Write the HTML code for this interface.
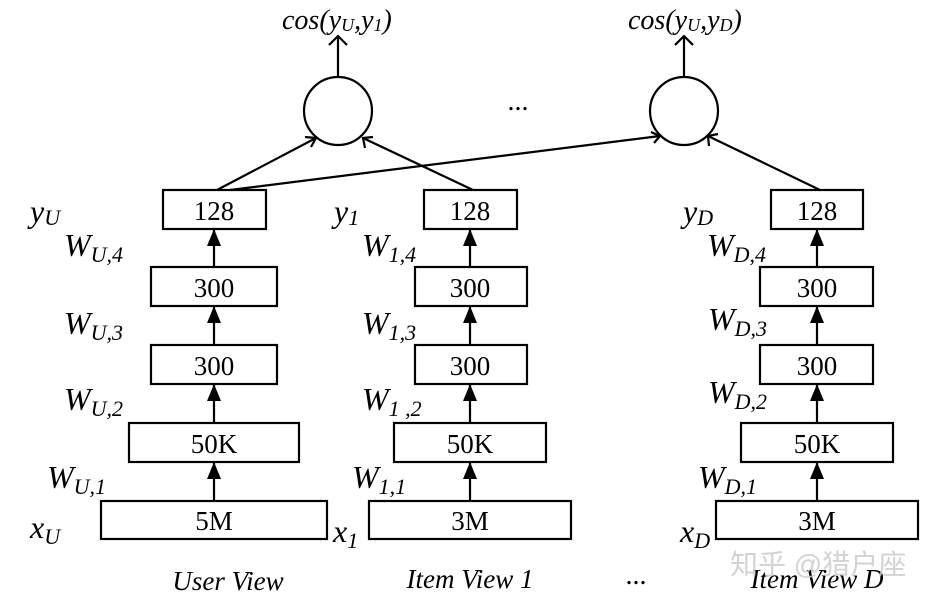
<!DOCTYPE html>
<html><head><meta charset="utf-8"><style>
html,body{margin:0;padding:0;background:#fff;}
svg{display:block;}
text{font-family:"Liberation Serif",serif;fill:#000;}
.i{font-style:italic;}
.b{font-size:27px;text-anchor:middle;}
.l{font-size:32px;font-style:italic;}
.s{font-size:22px;}
</style></head><body>
<svg width="928" height="602" viewBox="0 0 928 602" xmlns="http://www.w3.org/2000/svg">
<g fill="none" stroke="#000" stroke-width="2.2">
<rect x="163" y="190" width="103" height="39"/>
<rect x="151" y="267" width="126" height="39"/>
<rect x="151" y="345" width="126" height="39"/>
<rect x="129" y="423" width="170" height="39"/>
<rect x="101" y="501" width="226" height="38"/>
<rect x="424" y="190" width="93" height="39"/>
<rect x="415" y="267" width="112" height="39"/>
<rect x="415" y="345" width="112" height="39"/>
<rect x="394" y="423" width="152" height="39"/>
<rect x="369" y="501" width="202" height="38"/>
<rect x="771" y="190" width="92" height="39"/>
<rect x="760" y="267" width="113" height="39"/>
<rect x="760" y="345" width="113" height="39"/>
<rect x="741" y="423" width="152" height="39"/>
<rect x="716" y="501" width="202" height="38"/>
<circle cx="338" cy="111" r="34"/>
<circle cx="684" cy="111" r="34"/>
<path d="M214 501V462 M214 423V384 M214 345V306 M214 267V229"/>
<path d="M470 501V462 M470 423V384 M470 345V306 M470 267V229"/>
<path d="M817 501V462 M817 423V384 M817 345V306 M817 267V229"/>
<path d="M338 77V36 M329 45L338 36L347 45"/>
<path d="M684 77V36 M675 45L684 36L693 45"/>
<path d="M217 190L316 138 M305 137L316 138L311 147"/>
<path d="M473 190L363 138 M365 148L363 138L373 137"/>
<path d="M230 190L660 136 M651 132L660 136L654 143"/>
<path d="M820 190L708 136 M709 146L708 136L718 134"/>
</g>
<g fill="#000">
<path d="M214 229l-7 17h14z M214 306l-7 17h14z M214 384l-7 17h14z M214 462l-7 17h14z"/>
<path d="M470 229l-7 17h14z M470 306l-7 17h14z M470 384l-7 17h14z M470 462l-7 17h14z"/>
<path d="M817 229l-7 17h14z M817 306l-7 17h14z M817 384l-7 17h14z M817 462l-7 17h14z"/>
</g>
<text x="214" y="220" class="b">128</text><text x="214" y="297" class="b">300</text><text x="214" y="375" class="b">300</text><text x="214" y="453" class="b">50K</text><text x="214" y="530" class="b">5M</text>
<text x="470" y="220" class="b">128</text><text x="470" y="297" class="b">300</text><text x="470" y="375" class="b">300</text><text x="470" y="453" class="b">50K</text><text x="470" y="530" class="b">3M</text>
<text x="817" y="220" class="b">128</text><text x="817" y="297" class="b">300</text><text x="817" y="375" class="b">300</text><text x="817" y="453" class="b">50K</text><text x="817" y="530" class="b">3M</text>
<text x="30" y="222" class="l">y<tspan class="s" dy="3">U</tspan></text>
<text x="64" y="256" class="l">W<tspan class="s" dy="6">U,4</tspan></text>
<text x="64" y="334" class="l">W<tspan class="s" dy="6">U,3</tspan></text>
<text x="64" y="410" class="l">W<tspan class="s" dy="6">U,2</tspan></text>
<text x="47" y="488" class="l">W<tspan class="s" dy="6">U,1</tspan></text>
<text x="30" y="538" class="l">x<tspan class="s" dy="6">U</tspan></text>
<text x="334" y="222" class="l">y<tspan class="s" dy="3">1</tspan></text>
<text x="362" y="256" class="l">W<tspan class="s" dy="6">1,4</tspan></text>
<text x="362" y="334" class="l">W<tspan class="s" dy="6">1,3</tspan></text>
<text x="362" y="410" class="l">W<tspan class="s" dy="6">1 ,2</tspan></text>
<text x="352" y="488" class="l">W<tspan class="s" dy="6">1,1</tspan></text>
<text x="333" y="542" class="l">x<tspan class="s" dy="6">1</tspan></text>
<text x="683" y="222" class="l">y<tspan class="s" dy="3">D</tspan></text>
<text x="707" y="256" class="l">W<tspan class="s" dy="6">D,4</tspan></text>
<text x="708" y="330" class="l">W<tspan class="s" dy="6">D,3</tspan></text>
<text x="708" y="403" class="l">W<tspan class="s" dy="6">D,2</tspan></text>
<text x="698" y="488" class="l">W<tspan class="s" dy="6">D,1</tspan></text>
<text x="680" y="542" class="l">x<tspan class="s" dy="6">D</tspan></text>
<text x="282" y="29" class="i" style="font-size:28px">cos(y<tspan style="font-size:18px" dy="2">U</tspan><tspan dy="-2">,y</tspan><tspan style="font-size:18px" dy="2">1</tspan><tspan dy="-2">)</tspan></text>
<text x="628" y="29" class="i" style="font-size:28px">cos(y<tspan style="font-size:18px" dy="2">U</tspan><tspan dy="-2">,y</tspan><tspan style="font-size:18px" dy="2">D</tspan><tspan dy="-2">)</tspan></text>
<text x="518" y="110" style="font-size:28px;text-anchor:middle">...</text>
<text x="636" y="584" style="font-size:28px;text-anchor:middle">...</text>
<text x="228" y="590" class="i" style="font-size:27px;text-anchor:middle">User View</text>
<text x="470" y="588" class="i" style="font-size:27px;text-anchor:middle">Item View 1</text>
<text x="817" y="588" class="i" style="font-size:27px;text-anchor:middle">Item View D</text>
<text x="730" y="574" style="font-family:'Liberation Sans','Noto Sans CJK SC',sans-serif;font-size:28px;fill:#ccc;opacity:0.85">知乎 @猎户座</text>
</svg>
</body></html>
